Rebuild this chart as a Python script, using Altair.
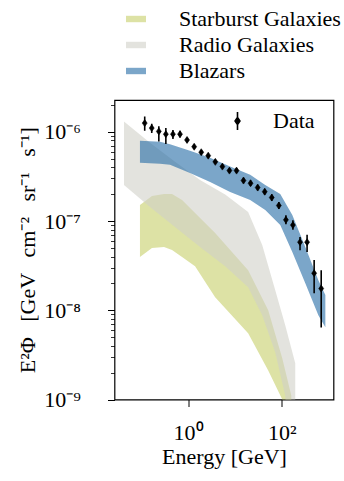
import altair as alt
import pandas as pd

# ---- Data ----
# Fermi-LAT extragalactic background data points
energy = [0.119, 0.168, 0.238, 0.336, 0.476, 0.673, 0.951, 1.35, 1.91, 2.69,
          3.81, 5.39, 7.62, 10.8, 15.2, 21.5, 30.5, 43.1, 60.9, 86.2,
          122, 172, 244, 345, 488, 690]
flux = [1.25e-6, 1.10e-6, 1.01e-6, 9.4e-7, 9.4e-7, 9.4e-7, 8.1e-7, 6.8e-7, 5.9e-7, 5.4e-7,
        4.6e-7, 4.07e-7, 3.67e-7, 3.67e-7, 2.84e-7, 2.65e-7, 2.37e-7, 2.13e-7, 1.83e-7, 1.49e-7,
        1.03e-7, 9.0e-8, 5.8e-8, 5.8e-8, 2.6e-8, 1.75e-8]
flux_lo = [1.03e-6, 9.7e-7, 7.8e-7, 7.3e-7, 8.3e-7, 8.6e-7, 7.6e-7, 6.4e-7, 5.55e-7, 5.1e-7,
           4.35e-7, 3.85e-7, 3.45e-7, 3.45e-7, 2.65e-7, 2.47e-7, 2.2e-7, 1.97e-7, 1.68e-7, 1.36e-7,
           9.2e-8, 8.0e-8, 4.7e-8, 4.5e-8, 1.55e-8, 6.4e-9]
flux_hi = [1.48e-6, 1.23e-6, 1.15e-6, 1.10e-6, 1.05e-6, 1.03e-6, 8.6e-7, 7.2e-7, 6.25e-7, 5.7e-7,
           4.9e-7, 4.3e-7, 3.9e-7, 3.9e-7, 3.05e-7, 2.85e-7, 2.55e-7, 2.3e-7, 2.0e-7, 1.63e-7,
           1.16e-7, 1.02e-7, 6.6e-8, 7.0e-8, 3.65e-8, 2.8e-8]

# Starburst galaxies band
sb_e = [0.0942, 0.170, 0.307, 0.455, 0.744, 1.41, 3.78, 19.1, 51.2, 102, 118, 159]
sb_hi = [1.51e-7, 1.91e-7, 2.01e-7, 2.01e-7, 1.72e-7, 1.23e-7, 7.33e-8, 2.81e-8, 1.0e-8, 2.89e-9, 2.12e-9, 1.11e-9]
sb_lo = [3.94e-8, 4.98e-8, 5.11e-8, 4.72e-8, 3.94e-8, 3.12e-8, 1.40e-8, 5.52e-9, 2.12e-9, 1.0e-9, 1e-11, 1e-11]

# Radio galaxies band
rg_e = [0.043, 0.154, 0.527, 1.80, 6.18, 19.1, 38.1, 72.3, 118, 193]
rg_hi = [1.30e-6, 7.52e-7, 4.6e-7, 2.89e-7, 1.98e-7, 1.26e-7, 5.4e-8, 1.68e-8, 6.78e-9, 2.54e-9]
rg_lo = [2.54e-7, 1.44e-7, 8.57e-8, 5.11e-8, 3.12e-8, 1.81e-8, 8.79e-9, 3.37e-9, 1.11e-9, 1e-11]

# Blazars band
bz_e = [0.0942, 0.252, 0.412, 1.10, 2.95, 7.89, 21.1, 44.2, 92.4, 167, 316, 600, 846]
bz_hi = [7.92e-7, 7.72e-7, 7.24e-7, 6.12e-7, 5.10e-7, 4.07e-7, 3.29e-7, 2.54e-7, 2.01e-7, 1.17e-7, 5.11e-8, 2.17e-8, 1.48e-8]
bz_lo = [4.49e-7, 4.37e-7, 4.26e-7, 3.46e-7, 2.74e-7, 2.12e-7, 1.72e-7, 1.33e-7, 9.02e-8, 4.49e-8, 2.01e-8, 8.79e-9, 6.44e-9]

band_names = ["Starburst Galaxies", "Radio Galaxies", "Blazars"]
band_colors = ["#c6cf69", "#d0d0c8", "#236ba5"]

y_major = [1e-9, 1e-8, 1e-7, 1e-6]
y_minor = [2e-9, 3e-9, 4e-9, 5e-9, 6e-9, 7e-9, 8e-9, 9e-9,
           2e-8, 3e-8, 4e-8, 5e-8, 6e-8, 7e-8, 8e-8, 9e-8,
           2e-7, 3e-7, 4e-7, 5e-7, 6e-7, 7e-7, 8e-7, 9e-7, 2e-6]
x_major = [1, 100]

# ---- Tables ----
sb_df = pd.DataFrame({"e": sb_e, "hi": sb_hi, "lo": sb_lo, "series": band_names[0]})
rg_df = pd.DataFrame({"e": rg_e, "hi": rg_hi, "lo": rg_lo, "series": band_names[1]})
bz_df = pd.DataFrame({"e": bz_e, "hi": bz_hi, "lo": bz_lo, "series": band_names[2]})
pts_df = pd.DataFrame({"e": energy, "v": flux, "lo": flux_lo, "hi": flux_hi, "label": "Data"})

FONT = "Liberation Serif"
GAP = "\u2002\u2009"
ytitle = "E²Φ" + GAP + "[GeV" + GAP + "cm⁻²" + GAP + "sr⁻¹" + GAP + "s⁻¹]"

xscale = alt.Scale(type="log", domain=[0.027, 1262], nice=False)
yscale = alt.Scale(type="log", domain=[1e-9, 2.27e-6], nice=False)

xaxis = alt.Axis(values=x_major, labelExpr="datum.value < 10 ? '10⁰' : '10²'",
                 title="Energy [GeV]", tickSize=7, tickWidth=1, tickColor="black",
                 domain=False, grid=False, labelPadding=16, titlePadding=3,
                 labelFontSize=22, titleFontSize=22, labelFont=FONT, titleFont=FONT,
                 labelColor="black", titleColor="black", titleFontWeight="normal",
                 labelFlush=False, labelOverlap=False, orient="bottom")

yaxis = alt.Axis(values=y_major,
                 labelExpr="datum.value <= 2e-9 ? '10⁻⁹' : datum.value <= 2e-8 ? '10⁻⁸' : datum.value <= 2e-7 ? '10⁻⁷' : '10⁻⁶'",
                 title=ytitle, tickSize=7, tickWidth=1, tickColor="black",
                 domain=False, grid=False, labelPadding=27, titlePadding=4,
                 labelFontSize=22, titleFontSize=22, labelFont=FONT, titleFont=FONT,
                 labelColor="black", titleColor="black", titleFontWeight="normal",
                 labelFlush=False, labelOverlap=False, orient="left")

yaxis_minor = alt.Axis(values=y_minor, labels=False, title=None, tickSize=4, tickWidth=0.8,
                       tickColor="black", domain=False, grid=False, orient="left")

fill_legend = alt.Legend(title=None, orient="none", legendX=10.5, legendY=-92,
                         symbolType="M-2.5,-0.8H2.5V0.8H-2.5Z", symbolSize=64,
                         symbolStrokeWidth=0, symbolOpacity=0.6,
                         labelFont=FONT, labelFontSize=22, labelColor="black",
                         labelOffset=32, rowPadding=4, labelLimit=300, padding=0)

data_legend = alt.Legend(title=None, orient="none", legendX=112, legendY=10,
                         symbolType="M0,-1V1M0,-0.39L0.27,0L0,0.39L-0.27,0Z", symbolSize=324,
                         symbolFillColor="black", symbolStrokeColor="black",
                         symbolStrokeWidth=1.6, symbolOpacity=1,
                         labelFont=FONT, labelFontSize=22, labelColor="black",
                         labelOffset=24.5, labelLimit=300, padding=0)

fill_enc = alt.Fill("series:N", scale=alt.Scale(domain=band_names, range=band_colors),
                    legend=fill_legend)

xenc = alt.X("e:Q", scale=xscale, axis=xaxis)


def band(df, first=False):
    return alt.Chart(df).mark_area(opacity=0.6, clip=True, interpolate="linear").encode(
        x=xenc,
        y=alt.Y("hi:Q", scale=yscale, axis=yaxis if first else None),
        y2="lo:Q",
        fill=fill_enc,
    )


bands = [band(sb_df, True), band(rg_df), band(bz_df)]

errbars = alt.Chart(pts_df).mark_rule(color="black", strokeWidth=1.6, clip=True).encode(
    x=xenc,
    y=alt.Y("lo:Q", scale=yscale, axis=yaxis_minor),
    y2="hi:Q",
)

points = alt.Chart(pts_df).mark_point(
    shape="M0,-1L0.7,0L0,1L-0.7,0Z", size=49, filled=True, fill="black",
    opacity=1, strokeWidth=0.6, clip=True
).encode(
    x=xenc,
    y=alt.Y("v:Q", scale=yscale, axis=None),
    stroke=alt.Stroke("label:N", scale=alt.Scale(domain=["Data"], range=["black"]),
                      legend=data_legend),
)

chart = alt.layer(*bands, errbars, points).resolve_axis(y="independent").properties(
    width=219, height=299.5,
    autosize=alt.AutoSizeParams(type="none"),
    padding={"left": 114.5, "top": 100, "right": 10.5, "bottom": 81.5},
    background="white",
).configure_view(stroke="black", strokeWidth=1.2).configure_legend(
    labelFont=FONT, labelFontSize=22
).configure_axis(labelFont=FONT, titleFont=FONT)

chart.save("out.html", embed_options={"renderer": "svg", "actions": False})
